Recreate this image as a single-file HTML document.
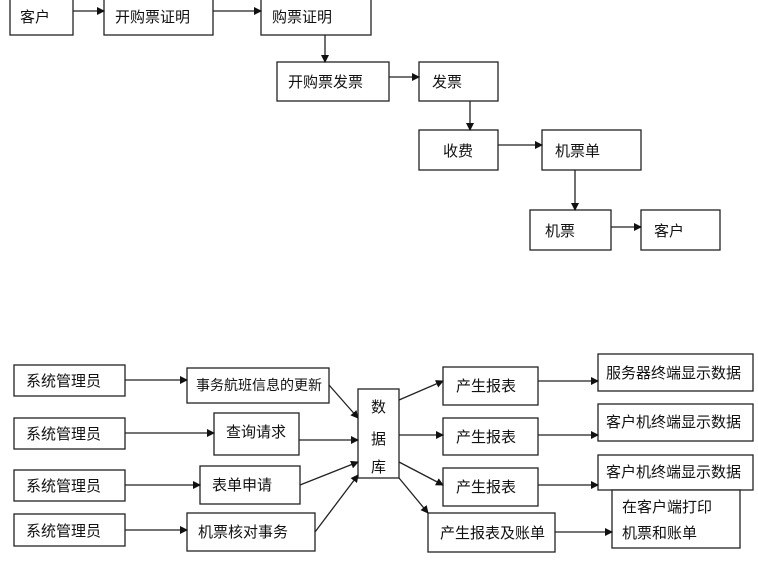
<!DOCTYPE html><html><head><meta charset="utf-8"><style>
body{margin:0;background:#fff;width:758px;height:573px;overflow:hidden}
svg text{font-family:"Liberation Sans","Noto Sans CJK SC",sans-serif;font-size:15px;fill:#111}
rect{fill:#fff;stroke:#222;stroke-width:1.3}
line{stroke:#222;stroke-width:1.3}
</style></head><body>
<svg width="758" height="573" viewBox="0 0 758 573">
<defs><marker id="a" markerWidth="8" markerHeight="8" refX="7" refY="4" orient="auto" markerUnits="userSpaceOnUse"><path d="M0,0 L8,4 L0,8z" fill="#111"/></marker></defs>
<g>
<rect x="10" y="-2" width="63" height="37"/><text x="20" y="22">客户</text>
<rect x="104" y="-2" width="109" height="37"/><text x="115" y="22">开购票证明</text>
<rect x="261" y="-2" width="110" height="37"/><text x="272" y="22">购票证明</text>
<rect x="277" y="62" width="112" height="39"/><text x="288" y="87">开购票发票</text>
<rect x="419" y="62" width="79" height="39"/><text x="432" y="87">发票</text>
<rect x="419" y="130" width="79" height="40"/><text x="443" y="156">收费</text>
<rect x="542" y="130" width="99" height="40"/><text x="555" y="156">机票单</text>
<rect x="530" y="210" width="81" height="40"/><text x="545" y="236">机票</text>
<rect x="641" y="210" width="79" height="40"/><text x="654" y="236">客户</text>
<line x1="73" y1="11" x2="104" y2="11" marker-end="url(#a)"/>
<line x1="213" y1="11" x2="261" y2="11" marker-end="url(#a)"/>
<line x1="325" y1="35" x2="325" y2="62" marker-end="url(#a)"/>
<line x1="389" y1="77" x2="419" y2="77" marker-end="url(#a)"/>
<line x1="470" y1="101" x2="470" y2="130" marker-end="url(#a)"/>
<line x1="498" y1="145" x2="542" y2="145" marker-end="url(#a)"/>
<line x1="575" y1="170" x2="575" y2="210" marker-end="url(#a)"/>
<line x1="611" y1="227" x2="641" y2="227" marker-end="url(#a)"/>
</g>
<g>
<rect x="14" y="365" width="111" height="31"/><text x="26" y="386">系统管理员</text>
<rect x="14" y="418" width="111" height="31"/><text x="26" y="439">系统管理员</text>
<rect x="14" y="470" width="111" height="31"/><text x="26" y="491">系统管理员</text>
<rect x="14" y="514" width="111" height="32"/><text x="26" y="536">系统管理员</text>
<rect x="187" y="368" width="142" height="35"/><text x="196" y="390" style="font-size:14px">事务航班信息的更新</text>
<rect x="214" y="413" width="85" height="42"/><text x="226" y="437">查询请求</text>
<rect x="200" y="466" width="100" height="38"/><text x="212" y="490">表单申请</text>
<rect x="187" y="513" width="128" height="38"/><text x="198" y="537">机票核对事务</text>
<rect x="358" y="389" width="41" height="89"/>
<text x="371" y="412">数</text><text x="371" y="444">据</text><text x="371" y="472">库</text>
<rect x="443" y="367" width="95" height="38"/><text x="456" y="391">产生报表</text>
<rect x="443" y="418" width="95" height="37"/><text x="456" y="442">产生报表</text>
<rect x="443" y="468" width="95" height="38"/><text x="456" y="492">产生报表</text>
<rect x="428" y="513" width="127" height="39"/><text x="440" y="538">产生报表及账单</text>
<rect x="598" y="354" width="155" height="37"/><text x="606" y="378">服务器终端显示数据</text>
<rect x="598" y="404" width="155" height="37"/><text x="606" y="427">客户机终端显示数据</text>
<rect x="598" y="455" width="155" height="35"/><text x="606" y="477">客户机终端显示数据</text>
<rect x="612" y="490" width="128" height="58"/><text x="622" y="512">在客户端打印</text><text x="622" y="538">机票和账单</text>
<line x1="125" y1="380" x2="187" y2="380" marker-end="url(#a)"/>
<line x1="125" y1="433" x2="214" y2="433" marker-end="url(#a)"/>
<line x1="125" y1="485" x2="200" y2="485" marker-end="url(#a)"/>
<line x1="125" y1="530" x2="187" y2="530" marker-end="url(#a)"/>
<line x1="329" y1="385" x2="358" y2="418" marker-end="url(#a)"/>
<line x1="299" y1="440" x2="358" y2="440" marker-end="url(#a)"/>
<line x1="300" y1="485" x2="358" y2="462" marker-end="url(#a)"/>
<line x1="315" y1="532" x2="358" y2="475" marker-end="url(#a)"/>
<line x1="399" y1="400" x2="443" y2="381" marker-end="url(#a)"/>
<line x1="399" y1="435" x2="443" y2="435" marker-end="url(#a)"/>
<line x1="399" y1="462" x2="443" y2="485" marker-end="url(#a)"/>
<line x1="399" y1="478" x2="428" y2="513" marker-end="url(#a)"/>
<line x1="538" y1="381" x2="598" y2="381" marker-end="url(#a)"/>
<line x1="538" y1="435" x2="598" y2="435" marker-end="url(#a)"/>
<line x1="538" y1="485" x2="598" y2="485" marker-end="url(#a)"/>
<line x1="555" y1="532" x2="612" y2="532" marker-end="url(#a)"/>
</g>
</svg></body></html>
